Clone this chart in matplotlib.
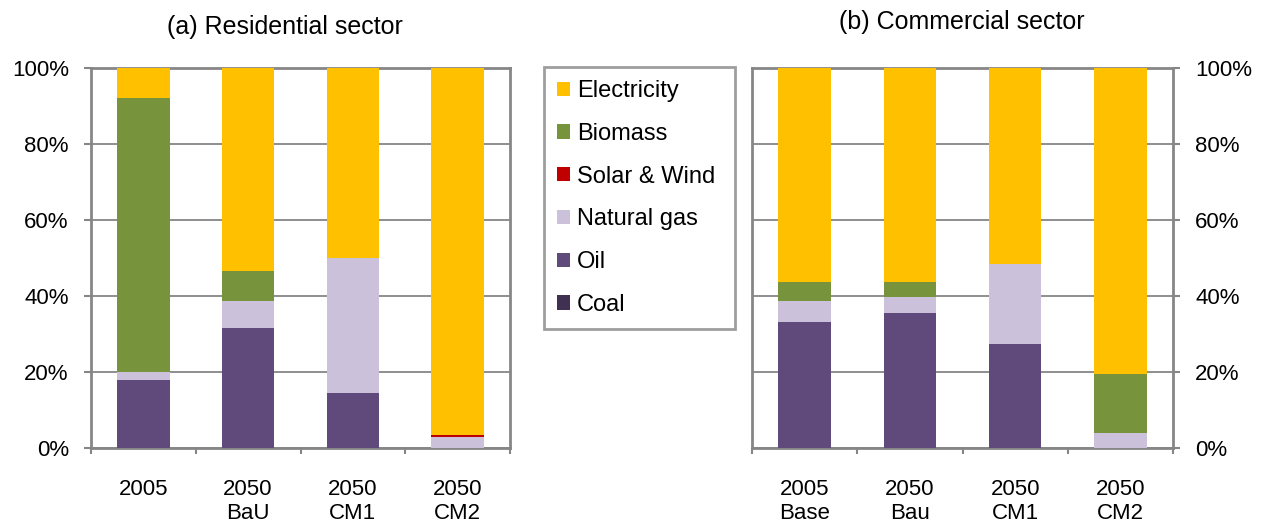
import matplotlib
matplotlib.use("Agg")
import matplotlib.pyplot as plt
import numpy as np

plt.rcParams['font.family'] = ['Liberation Sans', 'DejaVu Sans']

# ---- data ----
res_categories = ['2005', '2050\nBaU', '2050\nCM1', '2050\nCM2']
com_categories = ['2005\nBase', '2050\nBau', '2050\nCM1', '2050\nCM2']
series_names = ['Coal', 'Oil', 'Natural gas', 'Solar & Wind', 'Biomass', 'Electricity']
series_colors = ['#403152', '#604A7B', '#CCC1DA', '#C00000', '#77933C', '#FFC000']

res_coal = [0.0, 0.0, 0.0, 0.0]
res_oil = [18.0, 31.7, 14.5, 0.0]
res_gas = [2.0, 7.1, 35.6, 2.8]
res_solar = [0.0, 0.0, 0.0, 0.5]
res_biomass = [72.2, 7.9, 0.0, 0.0]
res_electricity = [7.8, 53.3, 49.9, 96.7]

com_coal = [0.0, 0.0, 0.0, 0.0]
com_oil = [33.1, 35.6, 27.5, 0.0]
com_gas = [5.6, 4.1, 20.8, 3.9]
com_solar = [0.0, 0.0, 0.0, 0.0]
com_biomass = [5.0, 4.0, 0.0, 15.5]
com_electricity = [56.3, 56.3, 51.7, 80.6]

yticks = [0, 20, 40, 60, 80, 100]

GRAY = '#868686'
TICK_FS = 16
W, H = 1264, 522
fig = plt.figure(figsize=(W / 100, H / 100), dpi=100)

ax1 = fig.add_axes([91 / W, 74 / H, 419 / W, 380 / H])
ax2 = fig.add_axes([752 / W, 74 / H, 421 / W, 380 / H])


def draw(ax, cats, series, right=False):
    x = np.arange(len(cats))
    bottom = np.zeros(len(cats))
    handles = []
    for name, vals, col in zip(series_names, series, series_colors):
        vals = np.array(vals, dtype=float)
        b = ax.bar(x, vals, 0.5, bottom=bottom, color=col, label=name,
                   linewidth=0, zorder=3)
        bottom += vals
        handles.append(b)
    ax.set_xlim(-0.5, len(cats) - 0.5)
    ax.set_ylim(0, 100)
    if right:
        ax.yaxis.tick_right()
    ax.set_yticks(yticks)
    ax.set_yticklabels([f'{v}%' for v in yticks], fontsize=TICK_FS)
    ax.set_xticks(x)
    ax.set_xticklabels(cats, fontsize=TICK_FS, linespacing=1.2)
    ax.set_xticks(np.arange(len(cats) + 1) - 0.5, minor=True)
    ax.tick_params(axis='x', which='major', length=0, pad=22)
    ax.tick_params(axis='x', which='minor', length=4.5, width=1.5,
                   color=GRAY, direction='out')
    ax.tick_params(axis='y', length=5, width=1.5, color=GRAY,
                   direction='out', pad=11)
    ax.grid(axis='y', color=GRAY, linewidth=1.3, zorder=0)
    ax.set_axisbelow(True)
    for s in ax.spines.values():
        s.set_color(GRAY)
        s.set_linewidth(2.0)
    return handles


h = draw(ax1, res_categories,
         [res_coal, res_oil, res_gas, res_solar, res_biomass, res_electricity])
draw(ax2, com_categories,
     [com_coal, com_oil, com_gas, com_solar, com_biomass, com_electricity],
     right=True)

fig.text(285 / W, 1 - 27 / H, '(a) Residential sector', fontsize=18,
         ha='center', va='center')
fig.text(962 / W, 1 - 22 / H, '(b) Commercial sector', fontsize=18,
         ha='center', va='center')

leg = fig.legend(handles=h[::-1], labels=series_names[::-1],
                 loc='upper left',
                 bbox_to_anchor=(544 / W, 0, 191 / W, 1 - 67 / H),
                 mode='expand', fontsize=17, frameon=True, fancybox=False,
                 borderpad=0.55, labelspacing=0.88, handlelength=0.55,
                 handleheight=0.55, handletextpad=0.3, borderaxespad=0)
leg.get_frame().set_edgecolor(GRAY)
leg.get_frame().set_linewidth(2.0)

fig.savefig('out.png', dpi=100)
